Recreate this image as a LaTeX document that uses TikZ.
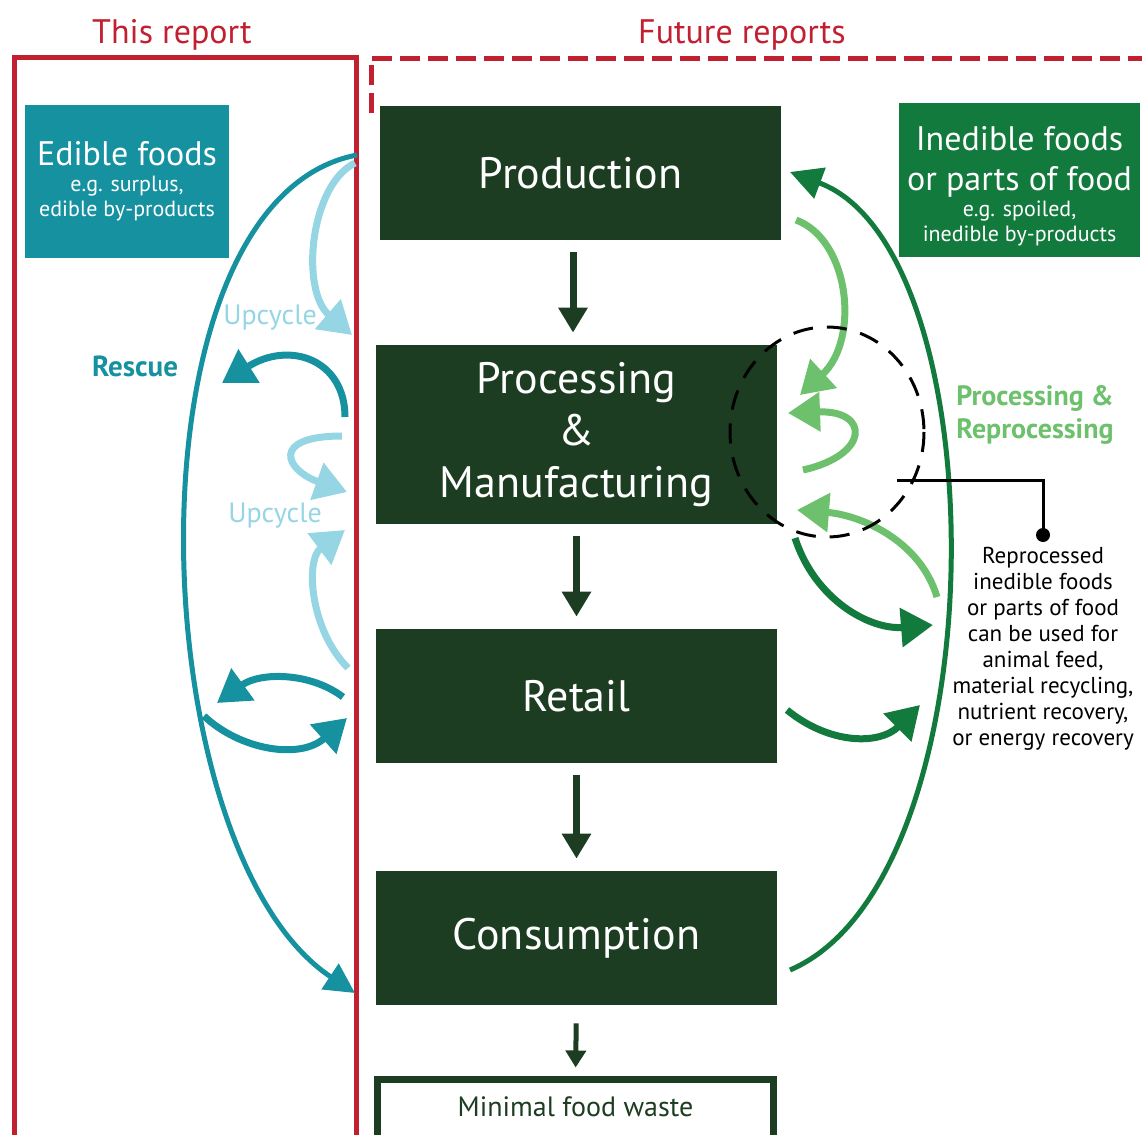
\documentclass[tikz,border=0pt]{standalone}
\usepackage{fontspec}
\setmainfont{PT Sans}
\usetikzlibrary{arrows.meta}

\definecolor{reportred}{RGB}{193,32,48}
\definecolor{darkgreen}{RGB}{28,61,33}
\definecolor{tealblue}{RGB}{22,145,160}
\definecolor{lightblue}{RGB}{149,213,228}
\definecolor{midgreen}{RGB}{19,122,62}
\definecolor{lightgreen}{RGB}{109,192,108}

\tikzset{
  mainbox/.style={fill=darkgreen, text=white, minimum width=200.5pt, minimum height=67pt,
    inner sep=0pt, align=center, font=\fontsize{22}{26}\selectfont},
  sourcebox/.style={text=white, inner sep=0pt, align=center, font=\fontsize{11}{12.5}\selectfont},
  downarrow/.style={darkgreen, line width=3.5pt, -{Triangle[length=12.5pt,width=14pt]},
    shorten <=6pt, shorten >=6pt},
  flow/.style={line width=3.5pt, -{Triangle[length=16pt,width=19pt]}},
  bigloop/.style={line width=2.5pt, -{Triangle[length=15pt,width=15pt]}},
  title/.style={text=reportred, font=\fontsize{17}{20}\selectfont},
  flowlabel/.style={font=\fontsize{14}{16.5}\selectfont, align=center}
}

\begin{document}
\begin{tikzpicture}[x=0.5pt,y=-0.5pt]
\useasboundingbox (0,0) rectangle (1142,1135);
\clip (0,0) rectangle (1142,1135);

% Report frames
\draw[reportred, line width=2.5pt] (14.5,57.5) rectangle (356.5,1160);
\draw[reportred, line width=2.5pt, dash pattern=on 10pt off 4pt] (371,113) -- (371,58) -- (1150,58);
\node[title] (thisrep) at (172,35) {This report};
\node[title] (futurerep) at (742,35) {Future reports};

% Supply chain stages
\node[mainbox] (prod) at (580.5,173) {Production};
\node[mainbox, minimum height=89.5pt] (proc) at (576.5,434.5) {Processing\\\&\\Manufacturing};
\node[mainbox] (retail) at (576.5,696) {Retail};
\node[mainbox] (cons) at (576.5,938) {Consumption};
\node[draw=darkgreen, line width=3.5pt, minimum width=198pt, minimum height=60pt, anchor=north,
  text=darkgreen, font=\fontsize{14}{16}\selectfont, text depth=32pt] (waste) at (575.5,1075.5) {Minimal food waste};

\draw[downarrow] (prod.south -| 573,0) -- (proc.north -| 573,0);
\draw[downarrow] (proc.south) -- (retail.north);
\draw[downarrow] (retail.south) -- (cons.north);
\draw[downarrow, line width=2.5pt, -{Triangle[length=8.5pt,width=10pt]}, shorten <=9pt, shorten >=4pt]
  (cons.south) -- (waste.north);

% Food sources
\node[sourcebox, fill=tealblue, minimum width=102pt, minimum height=76.5pt] (edible) at (127,181.5)
  {{\fontsize{17}{18}\selectfont Edible foods}\\[0.5pt]e.g. surplus,\\edible by-products};
\node[sourcebox, fill=midgreen, minimum width=120.5pt, minimum height=77pt] (inedible) at (1019.5,180) {};
\node[sourcebox] (inedibletext) at ([yshift=-3pt]inedible.center)
  {{\fontsize{17}{18}\selectfont Inedible foods}\\[7.5pt]{\fontsize{17}{18}\selectfont or parts of food}\\[0.5pt]e.g. spoiled,\\inedible by-products};

% Left side: rescue and upcycle
\coordinate (rescuetop) at (357,155);
\coordinate (rescueend) at (355,993);
\draw[tealblue, bigloop] (rescuetop) .. controls (120,200) and (140,850) .. (rescueend);

\draw[lightblue, flow] (355,163) .. controls (310,185) and (300,290) .. (352,335);
\draw[tealblue, flow] (345,417) .. controls (345,360) and (290,340) .. (222,383);
\draw[lightblue, flow] (342,436) .. controls (270,436) and (285,470) .. (347,492);
\draw[lightblue, flow] (348,668) .. controls (310,630) and (305,560) .. (345,530);
\draw[tealblue, flow] (343,697) .. controls (310,672) and (260,672) .. (217,703);
\draw[tealblue, flow] (204,716) .. controls (240,750) and (300,760) .. (347,718);

\node[flowlabel, text=lightblue] (upcycleA) at (270,318) {Upcycle};
\node[flowlabel, text=tealblue, font=\bfseries\fontsize{14.5}{16}\selectfont] (rescue) at (135,366) {Rescue};
\node[flowlabel, text=lightblue] (upcycleB) at (275,516) {Upcycle};

% Right side: processing and reprocessing
\coordinate (returnstart) at (790,970);
\coordinate (returnend) at (790,172);
\draw[midgreen, bigloop, -{Triangle[length=16pt,width=16pt]}] (returnstart) .. controls (1000,880) and (1000,250) .. (returnend);

\draw[lightgreen, flow] (796,220) .. controls (850,240) and (860,340) .. (800,395);
\draw[lightgreen, flow] (803,470) .. controls (870,455) and (870,410) .. (788,413);
\draw[lightgreen, flow] (937,597) .. controls (920,540) and (860,515) .. (797,510);
\draw[midgreen, flow] (795,538) .. controls (815,600) and (870,630) .. (933,625);
\draw[midgreen, flow] (787,710) .. controls (830,745) and (880,745) .. (920,705);

\draw[black, line width=1.5pt, dash pattern=on 10pt off 7pt] (827,432) ellipse [x radius=97, y radius=105];

\node[flowlabel, text=lightgreen, font=\bfseries\fontsize{14}{16.5}\selectfont] (reproc) at (1035,415) {Processing \&\\Reprocessing};

% Callout
\node[align=center, font=\fontsize{11.5}{13}\selectfont] (uses) at (1043,649)
  {Reprocessed\\inedible foods\\or parts of food\\can be used for\\animal feed,\\material recycling,\\nutrient recovery,\\or energy recovery};
\coordinate (calloutstart) at (897,480);
\coordinate (calloutdot) at (1043,535);
\draw[line width=1.5pt] (calloutstart) -| (calloutdot);
\fill (calloutdot) circle (3.5pt);

\end{tikzpicture}
\end{document}
